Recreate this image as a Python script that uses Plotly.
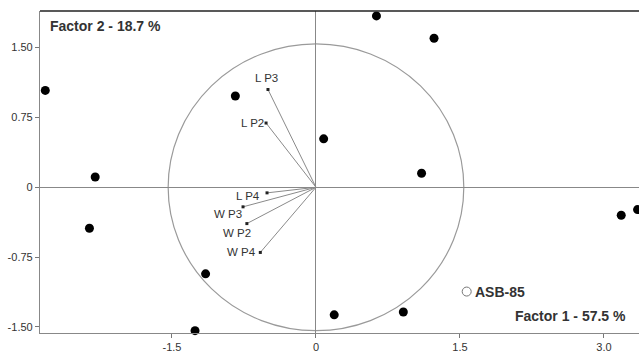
import plotly.graph_objects as go

# Case scores (black filled circles)
score_x = [-2.82, -0.84, -2.30, -2.36, -1.15, -1.26, 0.63, 1.23, 0.08, 1.10, 0.19, 0.91, 3.18, 3.35]
score_y = [1.04, 0.98, 0.11, -0.44, -0.93, -1.54, 1.84, 1.60, 0.52, 0.15, -1.37, -1.34, -0.30, -0.24]

# Supplementary case
supp_name = "ASB-85"
supp_x = [1.57]
supp_y = [-1.12]

# Variable loadings (arrows)
var_names = ["L P3", "L P2", "L P4", "W P3", "W P2", "W P4"]
var_x = [-0.50, -0.52, -0.51, -0.76, -0.72, -0.58]
var_y = [1.05, 0.69, -0.06, -0.21, -0.39, -0.70]

circle_r = 1.54

x_ticks = [-1.5, 0, 1.5, 3.0]
x_ticktext = ["-1.5", "0", "1.5", "3.0"]
y_ticks = [-1.5, -0.75, 0, 0.75, 1.5]
y_ticktext = ["-1.50", "-0.75", "0", "0.75", "1.50"]

x_title = "Factor 1 - 57.5 %"
y_title = "Factor 2 - 18.7 %"

FONT = "Liberation Sans, Arial, sans-serif"

fig = go.Figure()

# correlation circle
fig.add_shape(type="circle", xref="x", yref="y",
              x0=-circle_r, y0=-circle_r, x1=circle_r, y1=circle_r,
              line=dict(color="#9a9a9a", width=1.2), layer="below")

# arrows
for vx, vy in zip(var_x, var_y):
    fig.add_trace(go.Scatter(x=[0, vx], y=[0, vy], mode="lines",
                             line=dict(color="#8a8a8a", width=1),
                             hoverinfo="skip", showlegend=False))
fig.add_trace(go.Scatter(x=var_x, y=var_y, mode="markers",
                         marker=dict(color="#222", size=3, symbol="square"),
                         showlegend=False, hoverinfo="skip"))

# scores
fig.add_trace(go.Scatter(x=score_x, y=score_y, mode="markers",
                         marker=dict(color="black", size=9),
                         showlegend=False, cliponaxis=False))
fig.add_trace(go.Scatter(x=supp_x, y=supp_y, mode="markers",
                         marker=dict(color="white", size=9,
                                     line=dict(color="#777", width=1)),
                         showlegend=False))

# variable labels
label_pos = {
    "L P3": dict(xanchor="center", yanchor="bottom", xshift=-1, yshift=5),
    "L P2": dict(xanchor="right", yanchor="middle", xshift=-1, yshift=0),
    "L P4": dict(xanchor="right", yanchor="middle", xshift=-6, yshift=-3),
    "W P3": dict(xanchor="right", yanchor="middle", xshift=0, yshift=-7),
    "W P2": dict(xanchor="right", yanchor="middle", xshift=5, yshift=-9),
    "W P4": dict(xanchor="right", yanchor="middle", xshift=-3, yshift=0),
}
for name, vx, vy in zip(var_names, var_x, var_y):
    fig.add_annotation(x=vx, y=vy, xref="x", yref="y", text=name, showarrow=False,
                       font=dict(family=FONT, size=11.5, color="#333"),
                       borderpad=0, **label_pos[name])

fig.add_annotation(x=supp_x[0], y=supp_y[0], xref="x", yref="y", text="<b>%s</b>" % supp_name,
                   showarrow=False, xanchor="left", yanchor="middle", xshift=7,
                   font=dict(family=FONT, size=14, color="#333"), borderpad=0)

fig.add_annotation(x=0, y=1, xref="paper", yref="paper", text="<b>%s</b>" % y_title,
                   showarrow=False, xanchor="left", yanchor="top", xshift=9, yshift=-6,
                   font=dict(family=FONT, size=14, color="#333"), borderpad=0)
fig.add_annotation(x=1, y=0, xref="paper", yref="paper", text="<b>%s</b>" % x_title,
                   showarrow=False, xanchor="right", yanchor="bottom", xshift=-12, yshift=8,
                   font=dict(family=FONT, size=14, color="#333"), borderpad=0)

# top border
fig.add_shape(type="line", xref="paper", yref="paper", x0=0, x1=1, y0=1, y1=1,
              line=dict(color="#222", width=1.5))

fig.update_layout(
    width=639, height=352,
    margin=dict(l=40, r=0, t=11, b=19),
    paper_bgcolor="white", plot_bgcolor="white",
    font=dict(family=FONT, size=11, color="#333"),
    xaxis=dict(range=[-2.875, 3.365], tickvals=x_ticks, ticktext=x_ticktext,
               showgrid=False, zeroline=True, zerolinecolor="#888", zerolinewidth=1.3,
               showline=True, linecolor="#888", linewidth=1.2, automargin=False,
               ticks="outside", ticklen=4, tickcolor="#777",
               tickfont=dict(size=11, color="#333")),
    yaxis=dict(range=[-1.565, 1.893], tickvals=y_ticks, ticktext=y_ticktext,
               showgrid=False, zeroline=True, zerolinecolor="#888", zerolinewidth=1.3,
               showline=True, linecolor="#888", linewidth=1.2, automargin=False,
               ticks="outside", ticklen=4, tickcolor="#777",
               tickfont=dict(size=11, color="#333")),
)

# remove the browser's default 8px page margin so the 639x352 figure fills the window
fig.write_html("out.html",
               config={"displayModeBar": False},
               post_script="document.body.style.margin='0';document.body.style.overflow='hidden';")
